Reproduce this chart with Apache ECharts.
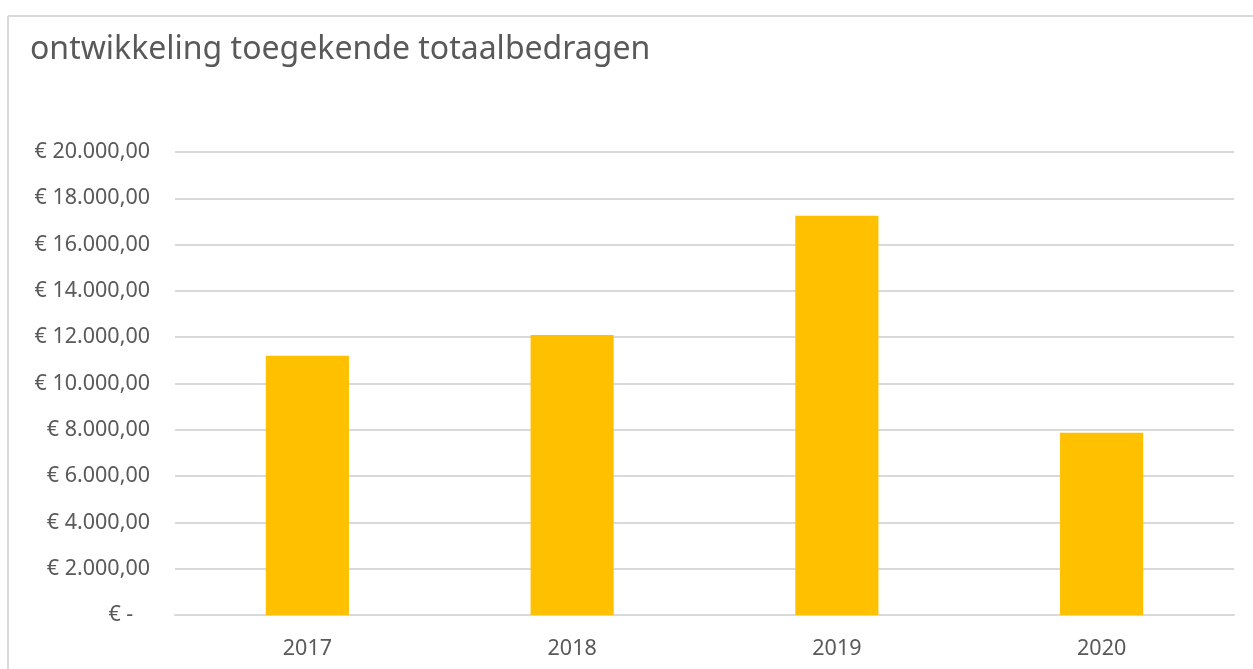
<!DOCTYPE html>
<html>
<head>
<meta charset="utf-8">
<script src="https://cdn.jsdelivr.net/npm/echarts@6/dist/echarts.min.js"></script>
<style>
html,body{margin:0;padding:0;background:#fff;}
#chart{width:1253px;height:669px;}
</style>
</head>
<body>
<div id="chart"></div>
<script>
const titleText = 'ontwikkeling toegekende totaalbedragen';
const categories = ['2017', '2018', '2019', '2020'];
const values = [11200, 12100, 17250, 7870];
const yTicks = [0, 2000, 4000, 6000, 8000, 10000, 12000, 14000, 16000, 18000, 20000];

function fmtEuro(v) {
  if (v === 0) return '€ -   ';
  const s = String(Math.round(v)).replace(/\B(?=(\d{3})+(?!\d))/g, '.');
  return '€ ' + s + ',00';
}

const chart = echarts.init(document.getElementById('chart'), null, {renderer: 'canvas'});
const txt = '#595959';
const font = 'Noto Sans';
chart.setOption({
  animation: false,
  backgroundColor: '#fff',
  textStyle: {fontFamily: font},
  title: {
    text: titleText,
    left: 25,
    top: 29,
    textStyle: {fontFamily: font, fontSize: 32, fontWeight: 'normal', color: txt}
  },
  graphic: [
    {type: 'line', shape: {x1: 8, y1: 16, x2: 1253, y2: 16}, style: {stroke: '#d9d9d9', lineWidth: 2}},
    {type: 'line', shape: {x1: 8, y1: 16, x2: 8, y2: 669}, style: {stroke: '#d9d9d9', lineWidth: 2}}
  ],
  grid: {left: 175, right: 19, top: 152, bottom: 54, containLabel: false},
  xAxis: {
    type: 'category',
    data: categories,
    axisLine: {show: true, lineStyle: {color: '#d9d9d9', width: 2}},
    axisTick: {show: false},
    axisLabel: {color: txt, fontSize: 21.5, fontFamily: font, margin: 23}
  },
  yAxis: {
    type: 'value',
    min: yTicks[0],
    max: yTicks[yTicks.length - 1],
    interval: yTicks[1] - yTicks[0],
    axisLine: {show: false},
    axisTick: {show: false},
    splitLine: {lineStyle: {color: '#d9d9d9', width: 2}},
    axisLabel: {color: txt, fontSize: 21.5, fontFamily: font, margin: 25, formatter: fmtEuro}
  },
  series: [{
    type: 'bar',
    data: values,
    barWidth: '31.4%',
    itemStyle: {color: '#FFC000'}
  }]
});
</script>
</body>
</html>
